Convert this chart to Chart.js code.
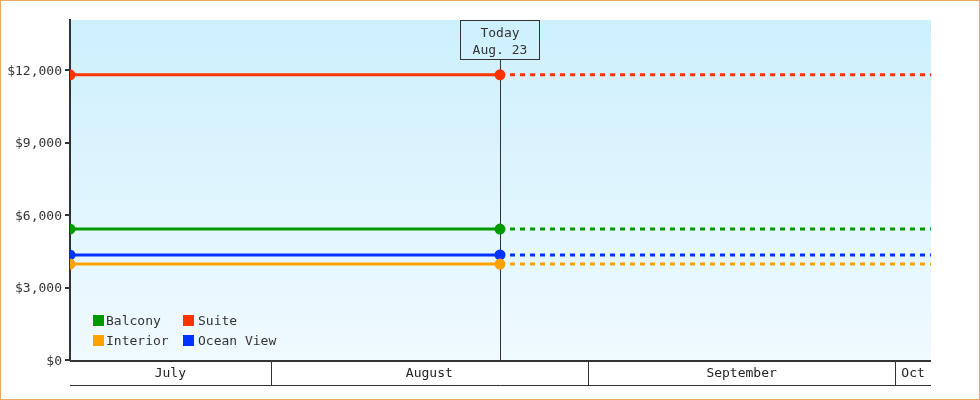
<!DOCTYPE html>
<html>
<head>
<meta charset="utf-8">
<script src="https://cdn.jsdelivr.net/npm/chart.js@4/dist/chart.umd.min.js"></script>
<style>
    body { margin: 0; background: #fff; }
    #wrap { width: 980px; height: 400px; position: relative; }
</style>
</head>
<body>
<div id="wrap"><canvas id="myChart" width="980" height="400"></canvas></div>
<script>
// Dias contados a partir de 1 de julho
const monthStarts = [0, 31, 62, 92, 123];
const monthNames = ['July', 'August', 'September', 'October'];
const monthShort = ['Jul', 'Aug', 'Sep', 'Oct'];

const pointDays = [11.4, 53.4, 95.5];   // início, hoje, fim do eixo
const todayDay = 53.4;
const todayLabel = ['Today', 'Aug. 23'];

const seriesNames = ['Balcony', 'Suite', 'Interior', 'Ocean View'];
const seriesColors = ['#009900', '#ff3300', '#ffa200', '#0033ff'];
const balconyPrices = [5420, 5420, 5420];
const suitePrices = [11800, 11800, 11800];
const interiorPrices = [3970, 3970, 3970];
const oceanViewPrices = [4350, 4350, 4350];

const yTickValues = [0, 3000, 6000, 9000, 12000];
const yMax = 14070;

const FONT = "'DejaVu Sans Mono', 'Liberation Mono', monospace";

function makeDataset(name, color, values) {
    return {
        label: name,
        data: values.map(function (v, i) { return { x: pointDays[i], y: v }; }),
        borderColor: color,
        backgroundColor: color,
        borderWidth: 3,
        pointRadius: [4, 4, 0],
        pointHoverRadius: 0,
        fill: false,
        segment: {
            borderDash: function (ctx) { return ctx.p0.parsed.x >= todayDay ? [5, 5] : undefined; }
        }
    };
}

const allValues = [balconyPrices, suitePrices, interiorPrices, oceanViewPrices];

function areaGradient(c, a) {
    const g = c.createLinearGradient(0, a.top, 0, a.bottom);
    g.addColorStop(0, '#cdf0fd');
    g.addColorStop(1, '#f0faff');
    return g;
}

const backgroundPlugin = {
    id: 'bg',
    // Fundo em degradê da área do gráfico
    beforeDraw: function (chart) {
        const c = chart.ctx, a = chart.chartArea;
        c.save();
        c.fillStyle = areaGradient(c, a);
        c.fillRect(a.left, a.top, a.right - a.left, a.bottom - a.top);
        c.restore();
    },
    // Linha vertical de "hoje"
    beforeDatasetsDraw: function (chart) {
        const c = chart.ctx, a = chart.chartArea;
        const x = Math.round(chart.scales.x.getPixelForValue(todayDay)) + 0.5;
        c.save();
        c.strokeStyle = '#333';
        c.lineWidth = 1;
        c.beginPath();
        c.moveTo(x, a.top + 40);
        c.lineTo(x, a.bottom);
        c.stroke();
        c.restore();
    },
    afterDraw: function (chart) {
        const c = chart.ctx, a = chart.chartArea, xs = chart.scales.x;
        c.save();

        // Caixa "Today"
        const tx = Math.round(xs.getPixelForValue(todayDay));
        c.fillStyle = areaGradient(c, a);
        c.fillRect(tx - 40, a.top, 80, 40);
        c.strokeStyle = '#333';
        c.lineWidth = 1;
        c.strokeRect(tx - 39.5, a.top + 0.5, 79, 39);
        c.fillStyle = '#333';
        c.font = '13px ' + FONT;
        c.textAlign = 'center';
        c.textBaseline = 'middle';
        c.fillText(todayLabel[0], tx, a.top + 14);
        c.fillText(todayLabel[1], tx, a.top + 31);

        // Faixa dos meses
        const bandBottom = a.bottom + 25;
        c.strokeStyle = '#333';
        c.lineWidth = 2;
        c.beginPath();
        c.moveTo(a.left, a.bottom + 1);
        c.lineTo(a.right, a.bottom + 1);
        c.stroke();
        c.lineWidth = 1;
        c.beginPath();
        c.moveTo(a.left, bandBottom + 0.5);
        c.lineTo(a.right, bandBottom + 0.5);
        c.stroke();
        c.fillStyle = '#222';
        for (let i = 0; i < monthNames.length; i++) {
            const s = Math.max(monthStarts[i], xs.min);
            const e = Math.min(monthStarts[i + 1], xs.max);
            if (e <= s) continue;
            const px0 = xs.getPixelForValue(s), px1 = xs.getPixelForValue(e);
            if (monthStarts[i] > xs.min) {
                const sx = Math.round(px0) + 0.5;
                c.beginPath();
                c.moveTo(sx, a.bottom);
                c.lineTo(sx, bandBottom);
                c.stroke();
            }
            let label = monthNames[i];
            if (c.measureText(label).width > px1 - px0 - 6) label = monthShort[i];
            c.fillText(label, (px0 + px1) / 2, a.bottom + 14);
        }

        // Legenda dentro do gráfico
        c.textAlign = 'left';
        const lx = a.left + 23, ly = a.bottom - 45;
        for (let i = 0; i < seriesNames.length; i++) {
            const col = i % 2, row = Math.floor(i / 2);
            const x = lx + col * 90, y = ly + row * 20;
            c.fillStyle = seriesColors[i];
            c.fillRect(x, y, 11, 11);
            c.fillStyle = '#333';
            c.fillText(seriesNames[i], x + 13 + col * 2, y + 6.5);
        }

        // Borda laranja
        c.strokeStyle = '#eaa860';
        c.lineWidth = 1;
        c.strokeRect(0.5, 0.5, chart.width - 1, chart.height - 1);
        c.restore();
    }
};

document.addEventListener('DOMContentLoaded', function () {
    const ctx = document.getElementById('myChart').getContext('2d');
    new Chart(ctx, {
        type: 'line',
        data: {
            datasets: seriesNames.map(function (n, i) { return makeDataset(n, seriesColors[i], allValues[i]); })
        },
        options: {
            responsive: false,
            animation: false,
            layout: { padding: { top: 20, right: 49, bottom: 40, left: 0 } },
            scales: {
                x: {
                    type: 'linear',
                    min: pointDays[0],
                    max: pointDays[2],
                    display: false
                },
                y: {
                    min: 0,
                    max: yMax,
                    afterFit: function (scale) { scale.width = 70; },
                    afterBuildTicks: function (scale) {
                        scale.ticks = yTickValues.map(function (v) { return { value: v }; });
                    },
                    border: { display: true, color: '#333', width: 2 },
                    grid: { drawOnChartArea: false, drawTicks: true, tickLength: 5, color: '#333', lineWidth: 2 },
                    ticks: {
                        padding: 3,
                        labelOffset: 1.5,
                        color: '#333',
                        font: { family: FONT, size: 13 },
                        callback: function (value) { return '$' + value.toLocaleString('en-US'); }
                    }
                }
            },
            plugins: {
                legend: { display: false },
                tooltip: { enabled: false }
            }
        },
        plugins: [backgroundPlugin]
    });
});
</script>
</body>
</html>
